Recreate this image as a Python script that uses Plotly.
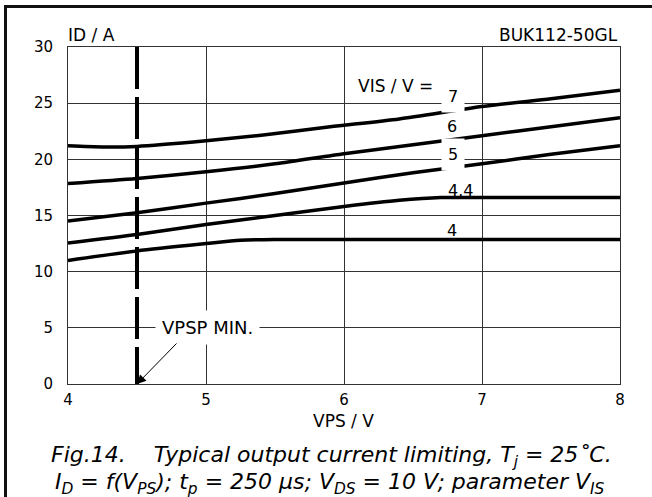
import plotly.graph_objects as go

# Output current limiting curves, I_D versus V_PS, one curve per V_IS value
vps_7 = [4.0, 4.25, 4.5, 5.0, 5.4, 5.9, 6.4, 7.0, 7.5, 8.0]
id_7 = [21.2, 21.1, 21.15, 21.65, 22.15, 22.9, 23.6, 24.7, 25.4, 26.15]

vps_6 = [4.0, 4.5, 5.0, 5.5, 6.0, 6.5, 7.0, 7.5, 8.0]
id_6 = [17.85, 18.3, 18.9, 19.6, 20.5, 21.3, 22.1, 22.9, 23.7]

vps_5 = [4.0, 4.5, 5.0, 5.5, 6.0, 6.5, 7.0, 7.5, 8.0]
id_5 = [14.5, 15.25, 16.1, 16.95, 17.9, 18.8, 19.6, 20.45, 21.2]

vps_44 = [4.0, 4.5, 5.0, 5.5, 6.0, 6.4, 6.7, 7.0, 7.5, 8.0]
id_44 = [12.55, 13.3, 14.2, 15.0, 15.8, 16.35, 16.6, 16.6, 16.6, 16.6]

vps_4 = [4.0, 4.5, 5.0, 5.25, 5.5, 6.0, 7.0, 8.0]
id_4 = [11.0, 11.85, 12.5, 12.8, 12.87, 12.87, 12.87, 12.87]

curves = [
    (vps_7, id_7, "7"),
    (vps_6, id_6, "6"),
    (vps_5, id_5, "5"),
    (vps_44, id_44, "4.4"),
    (vps_4, id_4, "4"),
]

# Curve labels: (text, x, y, white background)
curve_labels = [
    ("7", 6.79, 25.56, True),
    ("6", 6.786, 22.9, False),
    ("5", 6.79, 20.4, True),
    ("4.4", 6.843, 17.23, False),
    ("4", 6.786, 13.7, False),
]

vpsp_min = 4.5
x_ticks = [4, 5, 6, 7, 8]
y_ticks = [0, 5, 10, 15, 20, 25, 30]

FONT = "DejaVu Sans, Verdana, sans-serif"

fig = go.Figure()

for xs, ys, name in curves:
    fig.add_trace(go.Scatter(
        x=xs, y=ys, mode="lines", name=name,
        line=dict(color="black", width=3.5, shape="spline", smoothing=0.7),
        showlegend=False, hoverinfo="skip",
    ))

# Minimum supply voltage marker
fig.add_trace(go.Scatter(
    x=[vpsp_min, vpsp_min], y=[30, 0], mode="lines",
    line=dict(color="black", width=4, dash="42px,8px"),
    showlegend=False, hoverinfo="skip",
))

fig.update_xaxes(
    range=[4, 8], tickvals=x_ticks, ticktext=[str(v) for v in x_ticks],
    showgrid=True, gridcolor="#333", gridwidth=1,
    showline=True, linecolor="#333", linewidth=1, mirror=True,
    zeroline=False, ticks="", ticklabelstandoff=2,
    tickfont=dict(family=FONT, size=15, color="black"),
)
fig.update_yaxes(
    range=[0, 30], tickvals=y_ticks, ticktext=[str(v) for v in y_ticks],
    showgrid=True, gridcolor="#333", gridwidth=1,
    showline=True, linecolor="#333", linewidth=1, mirror=True,
    zeroline=False, ticks="", ticklabelstandoff=11,
    tickfont=dict(family=FONT, size=15, color="black"),
)

W, H = 652, 497
L, R, T, B = 68, 32, 47, 113
PW, PH = W - L - R, H - T - B


def px(xp):
    return (xp - L) / PW


def py(yp):
    return (H - B - yp) / PH


ann = []
ann.append(dict(text="ID / A", x=px(66), y=py(35), xref="paper", yref="paper",
                xanchor="left", yanchor="middle", showarrow=False,
                font=dict(family=FONT, size=17, color="black")))
ann.append(dict(text="BUK112-50GL", x=px(620), y=py(35), xref="paper", yref="paper",
                xanchor="right", yanchor="middle", showarrow=False,
                font=dict(family=FONT, size=17, color="black")))
ann.append(dict(text="VPS / V", x=px(343), y=py(421), xref="paper", yref="paper",
                xanchor="center", yanchor="middle", showarrow=False,
                font=dict(family=FONT, size=17, color="black")))
ann.append(dict(text="VIS / V =", x=6.09, y=26.55, xref="x", yref="y",
                xanchor="left", yanchor="middle", showarrow=False,
                font=dict(family=FONT, size=17, color="black")))
for text, lx, ly, bg in curve_labels:
    d = dict(text=text, x=lx, y=ly, xref="x", yref="y",
             xanchor="center", yanchor="middle", showarrow=False,
             font=dict(family=FONT, size=16, color="black"))
    if bg:
        d.update(bgcolor="white", borderpad=6)
    ann.append(d)

ann.append(dict(text="VPSP MIN.", x=5.01, y=5, xref="x", yref="y",
                xanchor="center", yanchor="middle", showarrow=False,
                bgcolor="white", borderpad=6,
                font=dict(family=FONT, size=18, color="black")))
ann.append(dict(text="", x=vpsp_min, y=0, xref="x", yref="y",
                ax=4.797, ay=3.74, axref="x", ayref="y",
                showarrow=True, arrowhead=2, arrowsize=1.8, arrowwidth=1,
                arrowcolor="black", standoff=0))

cap_font = dict(family=FONT, size=22, color="black")
ann.append(dict(
    text="<i>Fig.14.\u00a0\u00a0\u00a0 Typical output current limiting, T<sub>j</sub> = 25\u02daC.</i>",
    x=px(331), y=py(456), xref="paper", yref="paper",
    xanchor="center", yanchor="middle", showarrow=False, font=cap_font))
ann.append(dict(
    text="<i>I<sub>D</sub> = f(V<sub>PS</sub>); t<sub>p</sub> = 250 \u03bcs; V<sub>DS</sub> = 10 V; parameter V<sub>IS</sub></i>",
    x=px(330), y=py(483), xref="paper", yref="paper",
    xanchor="center", yanchor="middle", showarrow=False, font=cap_font))

# Outer frame (left and top edges)
shapes = [
    dict(type="line", xref="paper", yref="paper",
         x0=px(5.5), x1=px(5.5), y0=py(520), y1=py(6.5),
         line=dict(color="#111", width=3)),
    dict(type="line", xref="paper", yref="paper",
         x0=px(4), x1=px(680), y0=py(6.5), y1=py(6.5),
         line=dict(color="#111", width=3)),
]

fig.update_layout(
    width=W, height=H,
    margin=dict(l=L, r=R, t=T, b=B, pad=0),
    paper_bgcolor="white", plot_bgcolor="white",
    annotations=ann, shapes=shapes,
    showlegend=False,
)

fig.write_html("out.html")
